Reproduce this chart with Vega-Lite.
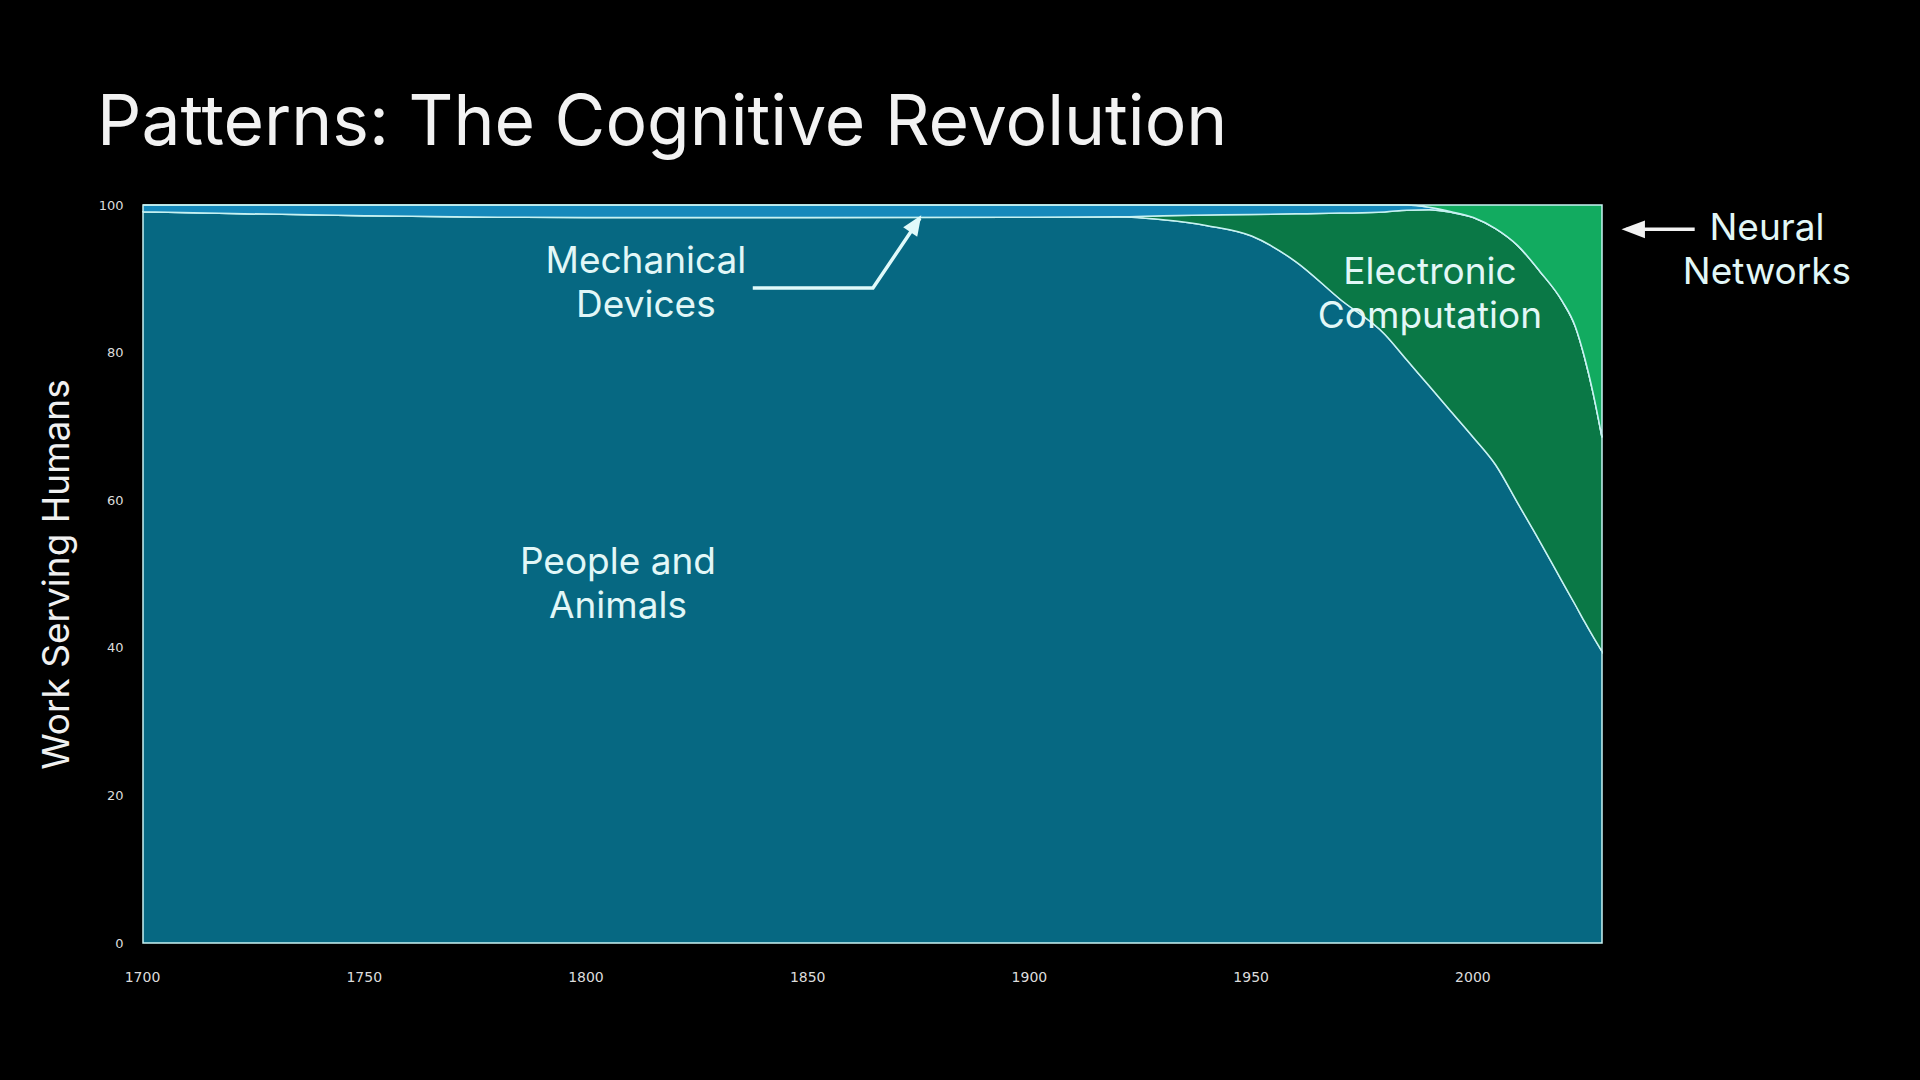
{
  "$schema": "https://vega.github.io/schema/vega-lite/v6.json",
  "width": 1459,
  "height": 738,
  "autosize": {"type": "none"},
  "padding": {"left": 143, "top": 205, "right": 318, "bottom": 137},
  "background": "#000000",
  "config": {"view": {"stroke": null}},
  "title": {
    "text": "Patterns: The Cognitive Revolution",
    "anchor": "start",
    "frame": "group",
    "font": "Inter",
    "fontSize": 69.5,
    "fontWeight": 400,
    "color": "#f2f2f2",
    "dx": -46,
    "dy": 65,
    "offset": 50,
    "baseline": "alphabetic"
  },
  "datasets": {
    "series": [
      {"year": 1700, "people": 99.1, "electronic": 0, "mechanical": 0.9, "neural": 0},
      {"year": 1720, "people": 98.85, "electronic": 0, "mechanical": 1.15, "neural": 0},
      {"year": 1750, "people": 98.55, "electronic": 0, "mechanical": 1.45, "neural": 0},
      {"year": 1780, "people": 98.35, "electronic": 0, "mechanical": 1.65, "neural": 0},
      {"year": 1800, "people": 98.3, "electronic": 0, "mechanical": 1.7, "neural": 0},
      {"year": 1850, "people": 98.3, "electronic": 0, "mechanical": 1.7, "neural": 0},
      {"year": 1900, "people": 98.35, "electronic": 0, "mechanical": 1.65, "neural": 0},
      {"year": 1920, "people": 98.4, "electronic": 0, "mechanical": 1.6, "neural": 0},
      {"year": 1930, "people": 98.0, "electronic": 0.55, "mechanical": 1.45, "neural": 0},
      {"year": 1940, "people": 97.2, "electronic": 1.45, "mechanical": 1.35, "neural": 0},
      {"year": 1950, "people": 95.8, "electronic": 2.9, "mechanical": 1.3, "neural": 0},
      {"year": 1960, "people": 92.3, "electronic": 6.5, "mechanical": 1.2, "neural": 0},
      {"year": 1970, "people": 87.2, "electronic": 11.7, "mechanical": 1.1, "neural": 0},
      {"year": 1980, "people": 82.5, "electronic": 16.55, "mechanical": 0.95, "neural": 0},
      {"year": 1985, "people": 79.0, "electronic": 20.3, "mechanical": 0.7, "neural": 0},
      {"year": 1990, "people": 75.5, "electronic": 23.85, "mechanical": 0.35, "neural": 0.3},
      {"year": 1995, "people": 72.0, "electronic": 27.0, "mechanical": 0.1, "neural": 0.9},
      {"year": 2000, "people": 68.5, "electronic": 29.8, "mechanical": 0, "neural": 1.7},
      {"year": 2005, "people": 64.8, "electronic": 32.0, "mechanical": 0, "neural": 3.2},
      {"year": 2010, "people": 59.6, "electronic": 34.9, "mechanical": 0, "neural": 5.5},
      {"year": 2015, "people": 54.4, "electronic": 36.6, "mechanical": 0, "neural": 9.0},
      {"year": 2020, "people": 49.0, "electronic": 38.0, "mechanical": 0, "neural": 13.0},
      {"year": 2023, "people": 45.8, "electronic": 37.7, "mechanical": 0, "neural": 16.5},
      {"year": 2025, "people": 43.6, "electronic": 35.9, "mechanical": 0, "neural": 20.5},
      {"year": 2027, "people": 41.5, "electronic": 33.0, "mechanical": 0, "neural": 25.5},
      {"year": 2029, "people": 39.5, "electronic": 29.0, "mechanical": 0, "neural": 31.5}
    ],
    "labels": [
      {"label": "Mechanical\nDevices", "year": 1813.4, "value": 92.25},
      {"label": "People and\nAnimals", "year": 1807.1, "value": 51.45},
      {"label": "Electronic\nComputation", "year": 1990.2, "value": 90.85},
      {"label": "Neural\nNetworks", "year": 2066.2, "value": 96.75}
    ],
    "arrows": [
      {"arrow": "mech", "seq": 1, "year": 1837.5, "value": 88.75},
      {"arrow": "mech", "seq": 2, "year": 1864.6, "value": 88.75},
      {"arrow": "mech", "seq": 3, "year": 1875.2, "value": 98.2},
      {"arrow": "nn", "seq": 1, "year": 2049.9, "value": 96.7},
      {"arrow": "nn", "seq": 2, "year": 2034.5, "value": 96.7}
    ],
    "heads": [
      {"arrow": "mech", "year": 1875.5, "value": 98.6},
      {"arrow": "nn", "year": 2033.4, "value": 96.7}
    ]
  },
  "layer": [
    {
      "data": {"name": "series"},
      "transform": [
        {"fold": ["people", "electronic", "mechanical", "neural"], "as": ["category", "share"]},
        {"calculate": "indexof(['people','electronic','mechanical','neural'], datum.category)", "as": "rank"}
      ],
      "mark": {"type": "area", "interpolate": "monotone", "stroke": "#c8f2f2", "strokeWidth": 1.5, "fillOpacity": 1},
      "encoding": {
        "x": {
          "field": "year", "type": "quantitative",
          "scale": {"domain": [1700, 2029], "nice": false, "zero": false},
          "axis": {
            "values": [1700, 1750, 1800, 1850, 1900, 1950, 2000],
            "format": "d",
            "title": null,
            "ticks": false,
            "domain": false,
            "grid": false,
            "labelFlush": false,
            "labelPadding": 27,
            "labelOffset": -1,
            "labelFont": "DejaVu Sans",
            "labelFontSize": 14,
            "labelColor": "#dcdcdc"
          }
        },
        "y": {
          "field": "share", "type": "quantitative", "stack": "zero",
          "scale": {"domain": [0, 100], "nice": false},
          "axis": {
            "values": [0, 20, 40, 60, 80, 100],
            "title": "Work Serving Humans",
            "titleFont": "Inter",
            "titleFontSize": 37,
            "titleFontWeight": 400,
            "titleColor": "#f0f0f0",
            "titleAngle": -90,
            "titleX": -86,
            "titleY": 369,
            "titleAlign": "center",
            "titleBaseline": "middle",
            "ticks": false,
            "domain": false,
            "grid": false,
            "labelFlush": false,
            "labelPadding": 20,
            "labelFont": "DejaVu Sans",
            "labelFontSize": 13,
            "labelColor": "#dcdcdc"
          }
        },
        "color": {
          "field": "category", "type": "nominal", "legend": null,
          "scale": {
            "domain": ["people", "electronic", "mechanical", "neural"],
            "range": ["#066882", "#0a7846", "#1689bb", "#12ab60"]
          }
        },
        "order": {"field": "rank", "type": "quantitative"}
      }
    },
    {
      "data": {"name": "labels"},
      "mark": {"type": "text", "font": "Inter", "fontSize": 37, "lineHeight": 44, "lineBreak": "\n", "align": "center", "baseline": "middle", "color": "#e2f7f7"},
      "encoding": {
        "x": {"field": "year", "type": "quantitative"},
        "y": {"field": "value", "type": "quantitative"},
        "text": {"field": "label"}
      }
    },
    {
      "data": {"name": "arrows"},
      "transform": [{"filter": "datum.arrow === 'mech'"}],
      "mark": {"type": "line", "color": "#e0fafa", "strokeWidth": 3.5, "strokeJoin": "miter"},
      "encoding": {
        "x": {"field": "year", "type": "quantitative"},
        "y": {"field": "value", "type": "quantitative"},
        "order": {"field": "seq", "type": "quantitative"}
      }
    },
    {
      "data": {"name": "arrows"},
      "transform": [{"filter": "datum.arrow === 'nn'"}],
      "mark": {"type": "line", "color": "#f2f2f2", "strokeWidth": 3.5},
      "encoding": {
        "x": {"field": "year", "type": "quantitative"},
        "y": {"field": "value", "type": "quantitative"},
        "order": {"field": "seq", "type": "quantitative"}
      }
    },
    {
      "data": {"name": "heads"},
      "transform": [{"filter": "datum.arrow === 'mech'"}],
      "mark": {"type": "point", "shape": "M0,0L-0.42,1L0.42,1Z", "size": 1600, "angle": 33.6, "filled": true, "opacity": 1, "color": "#e0fafa", "strokeWidth": 0},
      "encoding": {
        "x": {"field": "year", "type": "quantitative"},
        "y": {"field": "value", "type": "quantitative"}
      }
    },
    {
      "data": {"name": "heads"},
      "transform": [{"filter": "datum.arrow === 'nn'"}],
      "mark": {"type": "point", "shape": "M0,0L-0.38,1L0.38,1Z", "size": 2200, "angle": -90, "filled": true, "opacity": 1, "color": "#f2f2f2", "strokeWidth": 0},
      "encoding": {
        "x": {"field": "year", "type": "quantitative"},
        "y": {"field": "value", "type": "quantitative"}
      }
    }
  ]
}
